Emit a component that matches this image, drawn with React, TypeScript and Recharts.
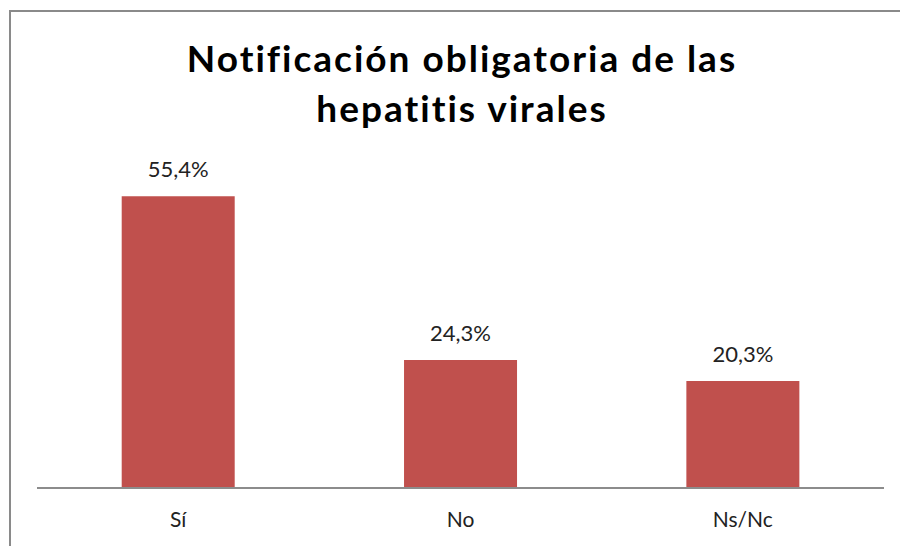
import { BarChart, Bar, XAxis, YAxis, LabelList } from "recharts";

const categories = ["Sí", "No", "Ns/Nc"];
const values = [55.4, 24.3, 20.3];
const valueLabels = ["55,4%", "24,3%", "20,3%"];

const data = categories.map((c, i) => ({ cat: c, value: values[i], label: valueLabels[i] }));

const FONT = "Lato, 'Open Sans', sans-serif";

export default function App() {
  return (
    <div style={{ position: "absolute", left: 0, top: 0, width: 900, height: 546, overflow: "hidden", background: "#fff" }}>
      <div
        style={{
          position: "absolute",
          left: 9,
          top: 10,
          width: 920,
          height: 560,
          border: "2px solid #8a8a8a",
          boxSizing: "border-box",
        }}
      />
      <div
        style={{
          position: "absolute",
          left: 0,
          top: 33,
          width: 924,
          textAlign: "center",
          fontFamily: FONT,
          fontWeight: 700,
          fontSize: 37,
          letterSpacing: 2,
          fontVariantLigatures: "none",
          lineHeight: "50px",
          color: "#000",
        }}
      >
        Notificación obligatoria de las
        <br />
        hepatitis virales
      </div>
      <div style={{ position: "absolute", left: 0, top: 0 }}>
        <BarChart
          width={900}
          height={546}
          data={data}
          margin={{ top: 172, right: 16, left: 37, bottom: 18 }}
          barCategoryGap="30%"
        >
          <YAxis hide domain={[0, 60]} />
          <XAxis
            dataKey="cat"
            height={40}
            axisLine={{ stroke: "#8c8c8c", strokeWidth: 2 }}
            tickLine={false}
            tick={{ fill: "#222", fontSize: 21, fontFamily: FONT }}
            tickMargin={18}
          />
          <Bar dataKey="value" fill="#C0504D" isAnimationActive={false}>
            <LabelList
              dataKey="label"
              position="top"
              offset={19}
              style={{ fill: "#222", fontSize: 22, fontFamily: FONT }}
            />
          </Bar>
        </BarChart>
      </div>
    </div>
  );
}
